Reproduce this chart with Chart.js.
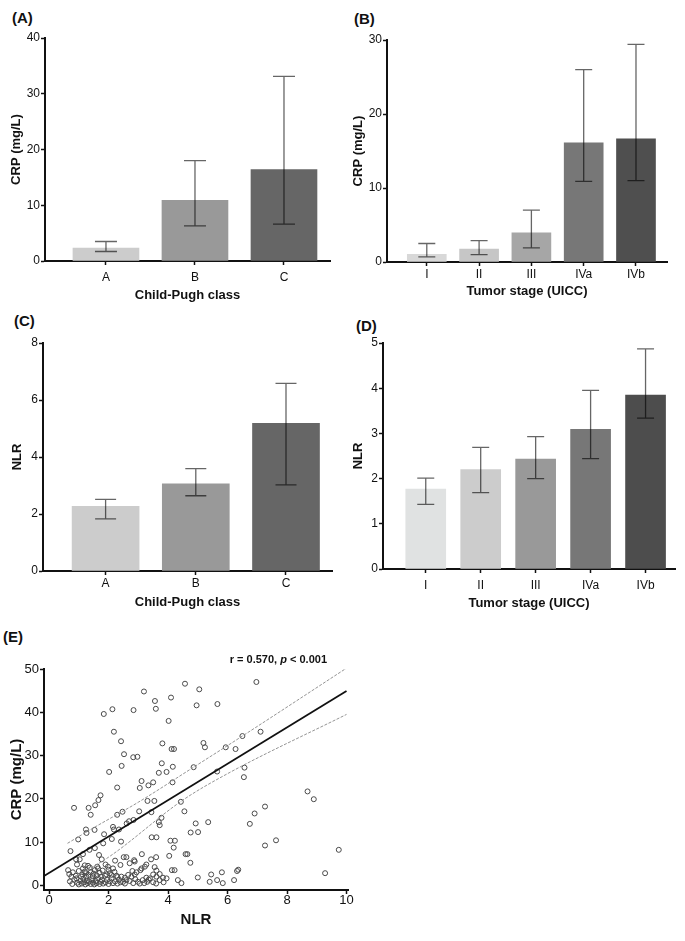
<!DOCTYPE html>
<html>
<head>
<meta charset="utf-8">
<script src="https://cdn.jsdelivr.net/npm/chart.js@4.4.1/dist/chart.umd.min.js"></script>
<style>
    body {
        margin: 0;
        background: #fff;
        width: 685px;
        height: 941px;
        position: relative;
        overflow: hidden;
        font-family: "Liberation Sans", Arial, sans-serif;
    }
    canvas { position: absolute; }
    .tag {
        position: absolute;
        font-weight: bold;
        font-size: 15px;
        color: #111;
        line-height: 15px;
    }
</style>
</head>
<body>
<div class="tag" style="left:12px;top:10px">(A)</div>
<div class="tag" style="left:354px;top:11px">(B)</div>
<div class="tag" style="left:14px;top:313px">(C)</div>
<div class="tag" style="left:356px;top:318px">(D)</div>
<div class="tag" style="left:3px;top:629px">(E)</div>

<canvas id="chartA" width="342" height="305" style="left:0;top:0"></canvas>
<canvas id="chartB" width="343" height="305" style="left:342px;top:0"></canvas>
<canvas id="chartC" width="342" height="315" style="left:0;top:300px"></canvas>
<canvas id="chartD" width="343" height="315" style="left:342px;top:300px"></canvas>
<canvas id="chartE" width="360" height="321" style="left:0;top:620px"></canvas>

<script>
// ---- data ----
const childPughClasses = ["A", "B", "C"];
const tumorStages = ["I", "II", "III", "IVa", "IVb"];

// (A) CRP by Child-Pugh class: median and error bar ends
const crpChildPugh = [2.3, 10.9, 16.4];
const crpChildPughLow = [1.7, 6.3, 6.6];
const crpChildPughHigh = [3.5, 18.0, 33.1];
const crpChildPughTicks = [0, 10, 20, 30, 40];

// (B) CRP by tumor stage
const crpStage = [1.05, 1.75, 3.95, 16.1, 16.65];
const crpStageLow = [0.7, 1.0, 1.9, 10.9, 11.0];
const crpStageHigh = [2.5, 2.9, 7.0, 26.0, 29.4];
const crpStageTicks = [0, 10, 20, 30];

// (C) NLR by Child-Pugh class
const nlrChildPugh = [2.27, 3.06, 5.18];
const nlrChildPughLow = [1.83, 2.64, 3.02];
const nlrChildPughHigh = [2.51, 3.59, 6.58];
const nlrChildPughTicks = [0, 2, 4, 6, 8];

// (D) NLR by tumor stage
const nlrStage = [1.77, 2.2, 2.43, 3.09, 3.85];
const nlrStageLow = [1.43, 1.69, 2.0, 2.44, 3.34];
const nlrStageHigh = [2.01, 2.69, 2.93, 3.95, 4.87];
const nlrStageTicks = [0, 1, 2, 3, 4, 5];

// (E) NLR vs CRP scatter, [NLR, CRP]
const scatterPoints = [
    [4.57, 46.6], [3.19, 44.8], [5.05, 45.3], [3.56, 42.6], [4.10, 43.4], [4.96, 41.6],
    [3.59, 40.8], [2.13, 40.7], [1.84, 39.6], [2.84, 40.5], [4.02, 38.0], [6.97, 47.0],
    [5.66, 41.9], [2.18, 35.5], [7.11, 35.5], [2.42, 33.3], [6.50, 34.5], [5.19, 32.9],
    [5.24, 31.9], [3.81, 32.8], [4.12, 31.5], [4.20, 31.5], [5.94, 31.9], [6.27, 31.5],
    [2.52, 30.3], [2.83, 29.6], [2.97, 29.7], [3.79, 28.2], [2.44, 27.6], [4.16, 27.4],
    [4.86, 27.3], [6.57, 27.2], [2.02, 26.2], [3.69, 26.0], [3.95, 26.2], [5.65, 26.3],
    [6.55, 25.0], [2.29, 22.6], [3.11, 24.1], [3.05, 22.5], [3.34, 23.1], [3.50, 23.8],
    [4.15, 23.8], [8.69, 21.7], [8.90, 19.9], [7.26, 18.2], [6.91, 16.6], [6.75, 14.2],
    [5.35, 14.6], [4.93, 14.3], [5.01, 12.3], [7.63, 10.4], [7.26, 9.2], [9.74, 8.2],
    [9.28, 2.8], [0.84, 17.9], [1.33, 17.9], [1.55, 18.5], [1.66, 19.7], [1.73, 20.8],
    [1.40, 16.3], [3.31, 19.5], [3.54, 19.5], [3.03, 17.1], [3.44, 16.9], [4.43, 19.3],
    [4.55, 17.1], [2.29, 16.3], [2.47, 17.0], [2.69, 14.8], [2.84, 15.1], [2.61, 14.3],
    [2.15, 13.5], [2.18, 12.9], [2.35, 12.9], [1.85, 11.8], [1.53, 12.8], [1.24, 12.9],
    [1.26, 12.1], [0.98, 10.6], [0.72, 7.9], [3.69, 14.6], [3.78, 15.6], [3.72, 13.9],
    [3.45, 11.1], [3.61, 11.1], [4.08, 10.3], [4.23, 10.3], [4.19, 8.7], [4.04, 6.8],
    [4.59, 7.2], [4.65, 7.2], [4.76, 12.2], [2.11, 10.7], [2.42, 10.1], [1.82, 9.7],
    [1.54, 8.6], [1.36, 8.2], [1.14, 7.2], [0.91, 6.0], [1.03, 6.0], [0.94, 4.8],
    [0.64, 3.5], [1.77, 6.0], [2.22, 5.7], [2.51, 6.5], [2.60, 6.5], [2.86, 5.8],
    [3.12, 7.2], [3.43, 6.0], [3.60, 6.5], [2.40, 4.7], [3.27, 4.8], [3.55, 4.2],
    [3.61, 3.4], [3.07, 3.5], [4.13, 3.5], [4.22, 3.5], [4.33, 1.2], [4.45, 0.5],
    [4.75, 5.2], [5.00, 1.8], [6.32, 3.3], [6.36, 3.6], [5.81, 3.0], [5.45, 2.5],
    [5.40, 0.8], [5.65, 1.2], [5.84, 0.5], [6.22, 1.2], [1.68, 7.0], [0.75, 2.0],
    [0.92, 1.6], [1.14, 3.9], [1.23, 2.8], [1.31, 4.5], [1.37, 4.1], [1.54, 3.5],
    [1.65, 3.9], [1.98, 4.3], [2.15, 3.9], [1.93, 2.5], [2.04, 2.8], [2.27, 2.2],
    [2.71, 5.1], [2.88, 5.5], [2.80, 3.3], [2.94, 3.0], [3.11, 3.9], [3.22, 4.3],
    [2.43, 2.0], [2.55, 1.75], [2.66, 2.4], [2.77, 2.0], [2.88, 2.5], [2.49, 0.8],
    [2.71, 1.0], [2.83, 0.5], [2.99, 0.8], [3.27, 1.75], [3.39, 1.6], [3.50, 2.5],
    [3.61, 2.0], [3.72, 1.2], [3.83, 1.75], [3.95, 1.6], [3.30, 0.8], [3.50, 0.7],
    [3.72, 2.6], [0.70, 0.9], [0.78, 0.3], [0.85, 1.3], [0.95, 0.6], [1.00, 0.2],
    [1.05, 1.0], [1.10, 0.4], [1.15, 1.5], [1.18, 0.7], [1.22, 0.2], [1.27, 1.1],
    [1.30, 0.5], [1.35, 0.9], [1.40, 0.3], [1.45, 1.4], [1.48, 0.6], [1.52, 0.2],
    [1.57, 1.0], [1.60, 0.5], [1.65, 1.6], [1.70, 0.3], [1.73, 0.8], [1.78, 1.2],
    [1.82, 0.4], [1.90, 0.7], [1.95, 1.3], [2.00, 0.3], [2.05, 0.9], [2.10, 1.6],
    [2.15, 0.5], [2.22, 0.9], [2.30, 0.4], [2.35, 1.3], [2.40, 0.7], [2.55, 0.4],
    [2.60, 1.2], [2.90, 1.4], [3.05, 0.4], [3.15, 1.2], [3.20, 0.5], [3.35, 1.3],
    [3.60, 0.4], [3.85, 0.7], [0.68, 2.6], [0.80, 3.0], [0.90, 2.2], [1.00, 3.3],
    [1.08, 2.0], [1.12, 2.5], [1.20, 3.2], [1.25, 2.0], [1.33, 2.4], [1.40, 3.0],
    [1.47, 2.1], [1.50, 2.7], [1.60, 2.3], [1.70, 2.9], [1.75, 2.0], [1.80, 3.4],
    [1.88, 2.2], [2.00, 3.6], [2.10, 2.4], [2.20, 3.1], [2.30, 1.9], [1.20, 4.6],
    [1.62, 4.3], [1.90, 4.8]
];
const fitLine = [[-0.17, 2.15], [10, 44.9]];
const fitUpper = [[0.62, 9.7], [1.4, 12.9], [3.0, 19.2], [4.86, 27.3], [6.5, 34.5], [10, 50.2]];
const fitLower = [[0.62, 1.0], [2.0, 6.5], [4.5, 19.7], [6.0, 25.8], [10, 39.5]];
const nlrTicks = [0, 2, 4, 6, 8, 10];
const crpTicks = [0, 10, 20, 30, 40, 50];

// ---- shared helpers ----
const FONT = '"Liberation Sans", Arial, sans-serif';
const INK = "#111";

const errorBarsPlugin = {
    id: "errorBars",
    afterDatasetsDraw(chart, args, opts) {
        if (!opts || !opts.lo) return;
        const ctx = chart.ctx;
        const y = chart.scales.y;
        const bars = chart.getDatasetMeta(0).data;
        ctx.save();
        ctx.strokeStyle = "rgba(0,0,0,0.6)";
        ctx.lineWidth = 1.3;
        bars.forEach((bar, i) => {
            const yLo = y.getPixelForValue(opts.lo[i]);
            const yHi = y.getPixelForValue(opts.hi[i]);
            const half = opts.cap / 2;
            ctx.beginPath();
            ctx.moveTo(bar.x, yLo);
            ctx.lineTo(bar.x, yHi);
            ctx.moveTo(bar.x - half, yLo);
            ctx.lineTo(bar.x + half, yLo);
            ctx.moveTo(bar.x - half, yHi);
            ctx.lineTo(bar.x + half, yHi);
            ctx.stroke();
        });
        ctx.restore();
    },
};

const corrTextPlugin = {
    id: "corrText",
    afterDraw(chart, args, opts) {
        if (!opts || !opts.parts) return;
        const ctx = chart.ctx;
        const area = chart.chartArea;
        ctx.save();
        ctx.fillStyle = INK;
        ctx.textBaseline = "middle";
        const fonts = opts.parts.map((p) => (p.italic ? "italic " : "") + "bold 11px " + FONT);
        let total = 0;
        opts.parts.forEach((p, i) => {
            ctx.font = fonts[i];
            total += ctx.measureText(p.text).width;
        });
        let x = area.right - opts.dx - total;
        opts.parts.forEach((p, i) => {
            ctx.font = fonts[i];
            ctx.fillText(p.text, x, area.top - opts.dy);
            x += ctx.measureText(p.text).width;
        });
        ctx.restore();
    },
};

Chart.register(errorBarsPlugin, corrTextPlugin);

function barPanel(id, cfg) {
    const canvas = document.getElementById(id);
    new Chart(canvas, {
        type: "bar",
        data: {
            datasets: [
                {
                    data: cfg.values.map((v, i) => ({ x: i, y: v })),
                    backgroundColor: cfg.colors,
                    borderWidth: 0,
                    barThickness: cfg.barWidth,
                },
            ],
        },
        options: {
            responsive: false,
            animation: false,
            events: [],
            layout: { padding: { top: cfg.top, right: cfg.right, left: 0, bottom: 0 } },
            plugins: {
                legend: { display: false },
                tooltip: { enabled: false },
                errorBars: { lo: cfg.lo, hi: cfg.hi, cap: cfg.cap },
            },
            scales: {
                x: {
                    type: "linear",
                    min: cfg.xMin,
                    max: cfg.xMax,
                    offset: false,
                    afterBuildTicks: (s) => {
                        s.ticks = cfg.labels.map((_, i) => ({ value: i }));
                    },
                    afterFit: (s) => {
                        s.height = canvas.height - cfg.bottom;
                    },
                    ticks: {
                        autoSkip: false,
                        maxRotation: 0,
                        padding: cfg.xTickPad,
                        color: INK,
                        font: { family: FONT, size: 12 },
                        callback: (v) => cfg.labels[v],
                    },
                    grid: {
                        display: true,
                        offset: false,
                        drawOnChartArea: false,
                        tickLength: 4,
                        tickWidth: 1.5,
                        tickColor: INK,
                    },
                    border: { color: INK, width: 2 },
                    title: {
                        display: true,
                        text: cfg.xTitle,
                        color: INK,
                        font: { family: FONT, size: 13, weight: "bold" },
                        padding: { top: 0, bottom: cfg.xTitlePad },
                    },
                },
                y: {
                    min: 0,
                    max: cfg.yTicks[cfg.yTicks.length - 1],
                    afterBuildTicks: (s) => {
                        s.ticks = cfg.yTicks.map((v) => ({ value: v }));
                    },
                    afterFit: (s) => {
                        s.width = cfg.axisLeft;
                    },
                    ticks: {
                        padding: 1,
                        color: INK,
                        font: { family: FONT, size: 12 },
                    },
                    grid: {
                        display: true,
                        drawOnChartArea: false,
                        tickLength: 4,
                        tickWidth: 1.5,
                        tickColor: INK,
                    },
                    border: { color: INK, width: 2 },
                    title: {
                        display: true,
                        text: cfg.yTitle,
                        color: INK,
                        font: { family: FONT, size: 13, weight: "bold" },
                        padding: { top: cfg.yTitlePad, bottom: 0 },
                    },
                },
            },
        },
    });
}

barPanel("chartA", {
    labels: childPughClasses,
    values: crpChildPugh,
    lo: crpChildPughLow,
    hi: crpChildPughHigh,
    yTicks: crpChildPughTicks,
    colors: ["#cccccc", "#999999", "#666666"],
    xTitle: "Child-Pugh class",
    yTitle: "CRP (mg/L)",
    xMin: -0.685, xMax: 2.517,
    barWidth: 66, cap: 22,
    axisLeft: 45, top: 38, right: 12, bottom: 261,
    xTickPad: 5, xTitlePad: 2, yTitlePad: 9,
});

barPanel("chartB", {
    labels: tumorStages,
    values: crpStage,
    lo: crpStageLow,
    hi: crpStageHigh,
    yTicks: crpStageTicks,
    colors: ["#d8d8d8", "#c6c6c6", "#a6a6a6", "#777777", "#4f4f4f"],
    xTitle: "Tumor stage (UICC)",
    yTitle: "CRP (mg/L)",
    xMin: -0.761, xMax: 4.593,
    barWidth: 39, cap: 17,
    axisLeft: 45, top: 40, right: 18, bottom: 262,
    xTickPad: 1, xTitlePad: 6, yTitlePad: 9,
});

barPanel("chartC", {
    labels: childPughClasses,
    values: nlrChildPugh,
    lo: nlrChildPughLow,
    hi: nlrChildPughHigh,
    yTicks: nlrChildPughTicks,
    colors: ["#cccccc", "#999999", "#666666"],
    xTitle: "Child-Pugh class",
    yTitle: "NLR",
    xMin: -0.694, xMax: 2.51,
    barWidth: 67, cap: 21,
    axisLeft: 43, top: 43, right: 10, bottom: 271,
    xTickPad: 1, xTitlePad: 5, yTitlePad: 10,
});

barPanel("chartD", {
    labels: tumorStages,
    values: nlrStage,
    lo: nlrStageLow,
    hi: nlrStageHigh,
    yTicks: nlrStageTicks,
    colors: ["#e0e2e2", "#cccccc", "#999999", "#777777", "#4d4d4d"],
    xTitle: "Tumor stage (UICC)",
    yTitle: "NLR",
    xMin: -0.778, xMax: 4.536,
    barWidth: 40, cap: 17,
    axisLeft: 41, top: 43, right: 10, bottom: 269,
    xTickPad: 5, xTitlePad: 4, yTitlePad: 9,
});

// ---- (E) scatter ----
const toXY = (pairs) => pairs.map(([x, y]) => ({ x, y }));
const canvasE = document.getElementById("chartE");
new Chart(canvasE, {
    type: "scatter",
    data: {
        datasets: [
            {
                data: toXY(scatterPoints),
                order: 1,
                pointRadius: 2.5,
                pointBorderWidth: 1,
                pointBorderColor: "#4a4a4a",
                pointBackgroundColor: "rgba(0,0,0,0)",
            },
            {
                type: "line",
                data: toXY(fitLine),
                borderColor: INK,
                borderWidth: 1.8,
                pointRadius: 0,
            },
            {
                type: "line",
                data: toXY(fitUpper),
                borderColor: "#888",
                borderWidth: 0.9,
                borderDash: [3, 1.5],
                pointRadius: 0,
                cubicInterpolationMode: "monotone",
            },
            {
                type: "line",
                data: toXY(fitLower),
                borderColor: "#888",
                borderWidth: 0.9,
                borderDash: [3, 1.5],
                pointRadius: 0,
                cubicInterpolationMode: "monotone",
            },
        ],
    },
    options: {
        responsive: false,
        animation: false,
        events: [],
        layout: { padding: { top: 49, right: 12, left: 0, bottom: 0 } },
        plugins: {
            legend: { display: false },
            tooltip: { enabled: false },
            corrText: {
                dx: 21,
                dy: 9,
                parts: [
                    { text: "r = 0.570, " },
                    { text: "p", italic: true },
                    { text: " < 0.001" },
                ],
            },
        },
        scales: {
            x: {
                type: "linear",
                min: -0.17,
                max: 10.05,
                afterBuildTicks: (s) => {
                    s.ticks = nlrTicks.map((v) => ({ value: v }));
                },
                afterFit: (s) => {
                    s.height = canvasE.height - 270;
                },
                ticks: {
                    padding: -1,
                    color: INK,
                    font: { family: FONT, size: 13 },
                },
                grid: {
                    display: true,
                    drawOnChartArea: false,
                    tickLength: 4,
                    tickWidth: 1.5,
                    tickColor: INK,
                },
                border: { color: INK, width: 2 },
                title: {
                    display: true,
                    text: "NLR",
                    color: INK,
                    font: { family: FONT, size: 15, weight: "bold" },
                    padding: { top: 0, bottom: 12 },
                },
            },
            y: {
                min: -1.09,
                max: 50,
                afterBuildTicks: (s) => {
                    s.ticks = crpTicks.map((v) => ({ value: v }));
                },
                afterFit: (s) => {
                    s.width = 44;
                },
                ticks: {
                    padding: 1,
                    color: INK,
                    font: { family: FONT, size: 13 },
                },
                grid: {
                    display: true,
                    drawOnChartArea: false,
                    tickLength: 4,
                    tickWidth: 1.5,
                    tickColor: INK,
                },
                border: { color: INK, width: 2 },
                title: {
                    display: true,
                    text: "CRP (mg/L)",
                    color: INK,
                    font: { family: FONT, size: 15, weight: "bold" },
                    padding: { top: 8, bottom: 0 },
                },
            },
        },
    },
});
</script>
</body>
</html>
